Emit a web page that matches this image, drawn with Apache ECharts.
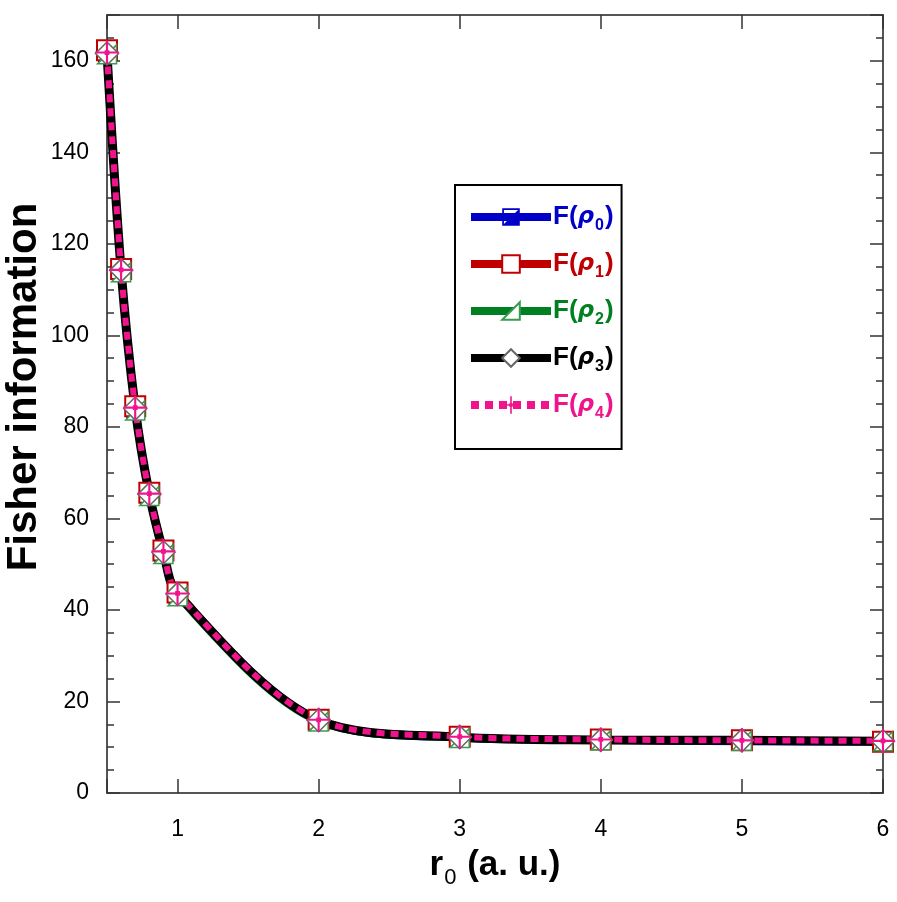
<!DOCTYPE html>
<html>
<head>
<meta charset="utf-8">
<script src="https://cdn.jsdelivr.net/npm/echarts@6.0.0/dist/echarts.min.js"></script>
<style>
  html, body { margin: 0; padding: 0; background: #fff; }
  #chart { width: 897px; height: 902px; }
</style>
</head>
<body>
<div id="chart"></div>
<script>
var r0 = [0.5, 0.6, 0.7, 0.8, 0.9, 1, 2, 3, 4, 5, 6];
var rho0 = [161.5, 114.0, 83.8, 65.1, 52.4, 43.2, 15.7, 12.0, 11.5, 11.2, 11.1];
var rho1 = [162.3, 114.5, 84.5, 65.6, 53.0, 43.8, 16.0, 12.3, 11.7, 11.5, 11.2];
var rho2 = [161.4, 113.8, 83.6, 64.9, 52.2, 43.0, 15.6, 12.0, 11.5, 11.4, 11.3];
var rho3 = [161.6, 114.2, 84.0, 65.3, 52.6, 43.5, 15.9, 12.2, 11.6, 11.5, 11.3];
var rho4 = [161.8, 114.3, 84.2, 65.4, 52.8, 43.6, 16.0, 12.3, 11.7, 11.5, 11.4];
var subs = ['0', '1', '2', '3', '4'];
var names = ['F0', 'F1', 'F2', 'F3', 'F4'];
var lineColors = ['#0000c8', '#c00000', '#008020', '#000000', '#f0148c'];
var lineWidths = [7, 7, 7, 9, 6];

var myChart = echarts.init(document.getElementById('chart'));

function pairs(ys) {
    return r0.map(function (x, i) { return [x, ys[i]]; });
}

// symbols
var halfSquare = 'path://M0,0H20V20H0Z M2,2V18H18V2Z M20,0L20,20L0,20Z';
var rightTri = 'path://M20,0L20,20L0,20Z';
var plusMark = 'path://M9.1,0H10.9V9.1H20V10.9H10.9V20H9.1V10.9H0V9.1H9.1Z M8,8H12V12H8Z';

var font = 'Liberation Sans, Arial, sans-serif';

function mk(name, ys, k, type, symbol, size, item) {
    return {
        name: name,
        type: 'line',
        data: pairs(ys),
        smooth: 0.32,
        symbol: symbol,
        symbolSize: size,
        showAllSymbol: true,
        lineStyle: { color: lineColors[k], width: lineWidths[k], type: type },
        itemStyle: item,
        emphasis: { disabled: true },
        z: 2
    };
}

var option = {
    backgroundColor: '#fff',
    animation: false,
    grid: { left: 107, right: 14, top: 15, bottom: 109, outerBoundsMode: 'none', containLabel: false },
    legend: {
        orient: 'vertical',
        left: 455,
        top: 185,
        padding: [19, 8, 27, 12],
        borderColor: '#000',
        borderWidth: 2,
        itemWidth: 80,
        itemHeight: 22,
        itemGap: 17,
        selectedMode: false,
        data: names.map(function (n, i) {
            return {
                name: n,
                textStyle: { color: lineColors[i] },
                lineStyle: { width: 8 }
            };
        }),
        formatter: function (name) {
            var k = names.indexOf(name);
            return '{f|F(}{r|\u03c1}{s|' + subs[k] + '}{f|)}';
        },
        textStyle: {
            fontFamily: font,
            fontWeight: 'bold',
            fontSize: 25,
            padding: [0, 0, 0, -3],
            rich: {
                f: { fontFamily: font, fontWeight: 'bold', fontSize: 26 },
                r: { fontFamily: 'DejaVu Sans', fontStyle: 'italic', fontWeight: 'bold', fontSize: 23 },
                s: { fontFamily: font, fontSize: 16, padding: [18, 1, 0, 1] }
            }
        }
    },
    xAxis: [{
        type: 'value',
        min: 0.5,
        max: 6,
        splitNumber: 5,
        name: '{b|r}{s|0}{b| (a. u.)}',
        nameLocation: 'middle',
        nameGap: 48,
        nameMoveOverlap: false,
        nameTextStyle: {
            rich: {
                b: { fontFamily: font, fontWeight: 'bold', fontSize: 35, color: '#000' },
                s: { fontFamily: font, fontSize: 22, color: '#000', padding: [26, 1, 0, 1] }
            }
        },
        axisLine: { onZero: false, lineStyle: { color: '#555', width: 2 } },
        axisTick: { inside: true, length: 14, lineStyle: { color: '#333', width: 1.5 } },
        axisLabel: {
            margin: 25,
            fontFamily: font,
            fontSize: 23,
            color: '#000',
            formatter: function (v) { return Math.abs(v - Math.round(v)) < 1e-6 ? String(Math.round(v)) : ''; }
        },
        splitLine: { show: false }
    }, {
        type: 'value',
        position: 'top',
        min: 0.5,
        max: 6,
        splitNumber: 5,
        axisLine: { onZero: false, lineStyle: { color: '#555', width: 2 } },
        axisTick: { inside: true, length: 14, lineStyle: { color: '#333', width: 1.5 } },
        axisLabel: { show: false },
        splitLine: { show: false }
    }],
    yAxis: [{
        type: 'value',
        min: 0,
        max: 170,
        interval: 20,
        name: 'Fisher information',
        nameLocation: 'middle',
        nameGap: 62,
        nameMoveOverlap: false,
        nameTextStyle: {
            fontFamily: font, fontWeight: 'bold', fontSize: 42, color: '#000',
            padding: [0, 0, 0, 34]
        },
        axisLine: { onZero: false, lineStyle: { color: '#555', width: 2 } },
        axisTick: { inside: true, length: 13, lineStyle: { color: '#333', width: 1.5 } },
        minorTick: { show: true, splitNumber: 4, length: 7, lineStyle: { color: '#333', width: 1.5 } },
        axisLabel: {
            margin: 18,
            fontFamily: font,
            fontSize: 23,
            color: '#000',
            formatter: function (v) { return v % 20 === 0 ? String(v) : ''; }
        },
        splitLine: { show: false },
        minorSplitLine: { show: false }
    }, {
        type: 'value',
        position: 'right',
        min: 0,
        max: 170,
        interval: 20,
        axisLine: { onZero: false, lineStyle: { color: '#555', width: 2 } },
        axisTick: { inside: true, length: 13, lineStyle: { color: '#333', width: 1.5 } },
        minorTick: { show: true, splitNumber: 4, length: 7, lineStyle: { color: '#333', width: 1.5 } },
        axisLabel: { show: false },
        splitLine: { show: false }
    }],
    series: [
        mk('F0', rho0, 0, 'solid', halfSquare, 18,
            { color: lineColors[0], borderWidth: 0 }),
        mk('F1', rho1, 1, 'solid', 'rect', 20,
            { color: '#fff', borderColor: lineColors[1], borderWidth: 2 }),
        mk('F2', rho2, 2, 'solid', rightTri, 19,
            { color: '#fff', borderColor: '#3a9a50', borderWidth: 1.5 }),
        mk('F3', rho3, 3, 'solid', 'diamond', 23,
            { color: '#fff', borderColor: '#666', borderWidth: 1.5 }),
        mk('F4', rho4, 4, [8, 6], plusMark, 24,
            { color: lineColors[4], borderWidth: 0 })
    ]
};

myChart.setOption(option);
</script>
</body>
</html>
